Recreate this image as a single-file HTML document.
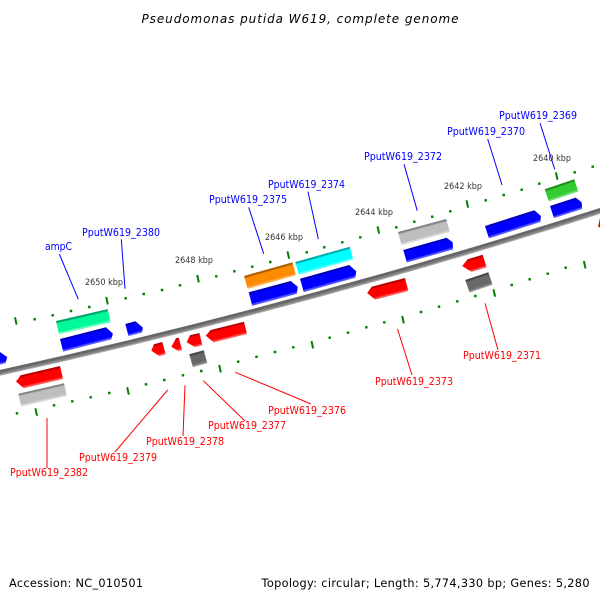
<!DOCTYPE html>
<html>
<head>
<meta charset="utf-8">
<style>
html,body{margin:0;padding:0;background:#fff;}
svg{display:block;}
text{font-family:"DejaVu Sans",sans-serif;}
.b{fill:#0000ff;font-size:10.5px;}
.r{fill:#ff0000;font-size:10.5px;}
.k{fill:#333;font-size:8.5px;}
.f{fill:#000;font-size:11.3px;}
.bl{stroke:#0000ff;stroke-width:1;fill:none;}
.rl{stroke:#ff0000;stroke-width:1;fill:none;}
</style>
</head>
<body>
<svg width="600" height="600" viewBox="0 0 600 600" xmlns="http://www.w3.org/2000/svg">
<defs>
<linearGradient id="gb" x1="0" y1="0" x2="0" y2="1"><stop offset="0" stop-color="#0000b0"/><stop offset=".12" stop-color="#0000c0"/><stop offset=".2" stop-color="#0000ff"/><stop offset=".82" stop-color="#0000ff"/><stop offset=".88" stop-color="#4848ff"/><stop offset="1" stop-color="#6060ff"/></linearGradient>
<linearGradient id="gr" x1="0" y1="0" x2="0" y2="1"><stop offset="0" stop-color="#b00000"/><stop offset=".12" stop-color="#c00000"/><stop offset=".2" stop-color="#ff0000"/><stop offset=".82" stop-color="#ff0000"/><stop offset=".88" stop-color="#ff4848"/><stop offset="1" stop-color="#ff6060"/></linearGradient>
<linearGradient id="gs" x1="0" y1="0" x2="0" y2="1"><stop offset="0" stop-color="#808080"/><stop offset=".12" stop-color="#888"/><stop offset=".2" stop-color="#bebebe"/><stop offset=".82" stop-color="#bebebe"/><stop offset=".88" stop-color="#d0d0d0"/><stop offset="1" stop-color="#dcdcdc"/></linearGradient>
<linearGradient id="gd" x1="0" y1="0" x2="0" y2="1"><stop offset="0" stop-color="#404040"/><stop offset=".12" stop-color="#484848"/><stop offset=".2" stop-color="#696969"/><stop offset=".82" stop-color="#696969"/><stop offset=".88" stop-color="#888"/><stop offset="1" stop-color="#999"/></linearGradient>
<linearGradient id="gm" x1="0" y1="0" x2="0" y2="1"><stop offset="0" stop-color="#00a064"/><stop offset=".12" stop-color="#00a86c"/><stop offset=".2" stop-color="#00fa9a"/><stop offset=".82" stop-color="#00fa9a"/><stop offset=".88" stop-color="#50ffb8"/><stop offset="1" stop-color="#70ffc8"/></linearGradient>
<linearGradient id="gc" x1="0" y1="0" x2="0" y2="1"><stop offset="0" stop-color="#00a8a8"/><stop offset=".12" stop-color="#00b0b0"/><stop offset=".2" stop-color="#00ffff"/><stop offset=".82" stop-color="#00ffff"/><stop offset=".88" stop-color="#50ffff"/><stop offset="1" stop-color="#70ffff"/></linearGradient>
<linearGradient id="go" x1="0" y1="0" x2="0" y2="1"><stop offset="0" stop-color="#a85c00"/><stop offset=".12" stop-color="#b06000"/><stop offset=".2" stop-color="#ff8c00"/><stop offset=".82" stop-color="#ff8c00"/><stop offset=".88" stop-color="#ffa840"/><stop offset="1" stop-color="#ffb860"/></linearGradient>
<linearGradient id="gl" x1="0" y1="0" x2="0" y2="1"><stop offset="0" stop-color="#208820"/><stop offset=".12" stop-color="#249024"/><stop offset=".2" stop-color="#32cd32"/><stop offset=".82" stop-color="#32cd32"/><stop offset=".88" stop-color="#70dc70"/><stop offset="1" stop-color="#88e488"/></linearGradient>
</defs>

<!-- backbone -->
<path d="M-5 373.9 Q300 306.9 605 209.3" fill="none" stroke="#a8a8a8" stroke-width="5.8"/>
<path d="M-5 373.4 Q300 306.4 605 208.8" fill="none" stroke="#808080" stroke-width="4.4"/>
<path d="M-5 372.5 Q300 305.5 605 207.9" fill="none" stroke="#666666" stroke-width="2.4"/>

<!-- ticks -->
<g fill="none" stroke="#008000" stroke-width="2">
<path d="M15 317.3l1.6 7.4M106.2 297l1.6 7.4M197.2 275l1.6 7.4M287.5 251.3l1.6 7.4M377.5 226.3l1.6 7.4M466.5 200.3l1.6 7.4M555.9 172.3l1.6 7.4"/>
<path d="M35.4 408.3l1.6 7.4M127.2 387.3l1.6 7.4M219.2 365l1.6 7.4M311.5 341l1.6 7.4M402.2 316l1.6 7.4M493.5 289.3l1.6 7.4M583.9 261l1.6 7.4"/>
<path stroke-width="2.5" d="M34.7 318.1v2.4M52.7 314.1v2.4M71 309.8v2.4M89.3 305.8v2.4M125.7 297.1v2.4M143.7 292.8v2.4M162 288.8v2.4M180 284.1v2.4M216.3 275.1v2.4M234.3 270.1v2.4M252.3 265.5v2.4M270.3 260.8v2.4M306.7 251.1v2.4M324.3 246.1v2.4M342.3 241.1v2.4M360.3 236.1v2.4M396.3 226.1v2.4M414.3 220.5v2.4M432.3 215.5v2.4M450.3 210.1v2.4M485.7 199.1v2.4M503.7 193.8v2.4M521.7 188.5v2.4M539.3 182.5v2.4M574.7 171.1v2.4M592.7 165.5v2.4"/>
<path stroke-width="2.5" d="M17 412.1v2.4M54 404.1v2.4M72.3 400.1v2.4M90.7 396.1v2.4M109.3 391.8v2.4M146 383.1v2.4M164.3 378.8v2.4M183 374.1v2.4M201.3 369.8v2.4M238.2 360.5v2.4M256.5 355.6v2.4M275 350.8v2.4M293.3 346.1v2.4M329.7 336.5v2.4M348 331.5v2.4M366.3 326.1v2.4M384.3 321.1v2.4M421 310.8v2.4M439 305.5v2.4M457.3 300.1v2.4M475.3 294.8v2.4M511.7 283.8v2.4M529.7 278.1v2.4M547.7 272.5v2.4M565.7 266.5v2.4"/>
</g>

<!-- connectors -->
<path class="bl" d="M540 123L554.7 169.3M487.7 139L502 185M404 164.3L417.3 210.7M308 191.7L318.3 239M248.7 207.3L263.7 253.7M121.3 239.3L125 288.7M59.3 254L78.3 299.3"/>
<path class="rl" d="M485 303.3L498 350M397.5 329L412 375M235.3 372.3L311 404M203.3 380.7L245 421M185 385.3L183 436M167.7 390L115 452M47 418L47 468"/>

<!-- genes top strand -->
<g transform="translate(56 321) rotate(-13)"><polygon fill="url(#gm)" points="0,0 53,0 53,13.6 0,13.6"/></g>
<g transform="translate(60 339) rotate(-14.3)"><polygon fill="url(#gb)" points="0,0 47.5,0 52.6,8 49.5,13 0,13"/></g>
<g transform="translate(125.3 324) rotate(-15)"><polygon fill="url(#gb)" points="0,0 10.5,0 16,8 14,12.5 0,12.5"/></g>
<g transform="translate(-10 354.2) rotate(-14)"><polygon fill="url(#gb)" points="0,0 10,0 16,7 13,12.5 0,12.5"/></g>
<g transform="translate(244 276) rotate(-15.8)"><polygon fill="url(#go)" points="0,0 50.2,0 50.2,13.4 0,13.4"/></g>
<g transform="translate(248.7 292.3) rotate(-15)"><polygon fill="url(#gb)" points="0,0 43.5,0 48.8,7.3 46,14 0,14"/></g>
<g transform="translate(295.3 262) rotate(-15.7)"><polygon fill="url(#gc)" points="0,0 56.5,0 56.5,13.4 0,13.4"/></g>
<g transform="translate(300 278.7) rotate(-15.6)"><polygon fill="url(#gb)" points="0,0 51,0 56.2,8 53.5,14 0,14"/></g>
<g transform="translate(398 232) rotate(-15.1)"><polygon fill="url(#gs)" points="0,0 50,0 50,13.6 0,13.6"/></g>
<g transform="translate(403.3 250) rotate(-15.8)"><polygon fill="url(#gb)" points="0,0 45,0 49.6,6 48,13 0,13"/></g>
<g transform="translate(485 226) rotate(-17.7)"><polygon fill="url(#gb)" points="0,0 51.8,0 56.3,7.5 54,13 0,13"/></g>
<g transform="translate(544.7 189.3) rotate(-18.7)"><polygon fill="url(#gl)" points="0,0 31.2,0 31.2,13 0,13"/></g>
<g transform="translate(550 206) rotate(-18)"><polygon fill="url(#gb)" points="0,0 27,0 31.3,6.3 29.5,12.8 0,12.8"/></g>

<!-- genes bottom strand -->
<g transform="translate(20.7 375.3) rotate(-13.3)"><polygon fill="url(#gr)" points="0,0 40.4,0 40.4,13.3 0,13.3 -6,5"/></g>
<g transform="translate(18.3 393.7) rotate(-12.8)"><polygon fill="url(#gs)" points="0,0 46.9,0 46.9,13 0,13"/></g>
<g transform="translate(154 344.3) rotate(-15.5)"><polygon fill="url(#gr)" points="0,0 8.6,0 8.6,12.8 2,12.8 -4.3,5.4"/></g>
<g transform="translate(176 338.3) rotate(-15)"><polygon fill="url(#gr)" points="0,0 2.8,0 2.8,13 -1,13 -6.7,7"/></g>
<g transform="translate(190 335.3) rotate(-14)"><polygon fill="url(#gr)" points="0,0 9.6,0 9.6,12.7 2,12.7 -4.9,6"/></g>
<g transform="translate(210.7 330) rotate(-14)"><polygon fill="url(#gr)" points="0,0 34.3,0 34.3,12.7 0,12.7 -6.2,4.3"/></g>
<g transform="translate(189.3 354.3) rotate(-15.6)"><polygon fill="url(#gd)" points="0,0 15,0 15,13.3 0,13.3"/></g>
<g transform="translate(371.7 286.7) rotate(-14.6)"><polygon fill="url(#gr)" points="0,0 34.4,0 34.4,13.4 0,13.4 -6,5"/></g>
<g transform="translate(467.7 259.3) rotate(-17)"><polygon fill="url(#gr)" points="0,0 15.7,0 15.7,13.2 0,13.2 -7.2,4.8"/></g>
<g transform="translate(465.3 280) rotate(-18.5)"><polygon fill="url(#gd)" points="0,0 24.3,0 24.3,13.2 0,13.2"/></g>
<g transform="translate(600 218) rotate(-18)"><polygon fill="url(#gr)" points="0,0 20,0 20,13 0,13 -4.5,7.5"/></g>

<!-- kbp labels -->
<text class="k" x="533" y="161" textLength="38" lengthAdjust="spacingAndGlyphs">2640 kbp</text>
<text class="k" x="444" y="189" textLength="38" lengthAdjust="spacingAndGlyphs">2642 kbp</text>
<text class="k" x="355" y="215" textLength="38" lengthAdjust="spacingAndGlyphs">2644 kbp</text>
<text class="k" x="265" y="240" textLength="38" lengthAdjust="spacingAndGlyphs">2646 kbp</text>
<text class="k" x="175" y="263" textLength="38" lengthAdjust="spacingAndGlyphs">2648 kbp</text>
<text class="k" x="85" y="285" textLength="38" lengthAdjust="spacingAndGlyphs">2650 kbp</text>

<!-- gene labels -->
<text class="b" x="499" y="119" textLength="78" lengthAdjust="spacingAndGlyphs">PputW619_2369</text>
<text class="b" x="447" y="135" textLength="78" lengthAdjust="spacingAndGlyphs">PputW619_2370</text>
<text class="b" x="364" y="160" textLength="78" lengthAdjust="spacingAndGlyphs">PputW619_2372</text>
<text class="b" x="268" y="188" textLength="77" lengthAdjust="spacingAndGlyphs">PputW619_2374</text>
<text class="b" x="209" y="203" textLength="78" lengthAdjust="spacingAndGlyphs">PputW619_2375</text>
<text class="b" x="82" y="236" textLength="78" lengthAdjust="spacingAndGlyphs">PputW619_2380</text>
<text class="b" x="45" y="250" textLength="27" lengthAdjust="spacingAndGlyphs">ampC</text>
<text class="r" x="463" y="359" textLength="78" lengthAdjust="spacingAndGlyphs">PputW619_2371</text>
<text class="r" x="375" y="385" textLength="78" lengthAdjust="spacingAndGlyphs">PputW619_2373</text>
<text class="r" x="268" y="414" textLength="78" lengthAdjust="spacingAndGlyphs">PputW619_2376</text>
<text class="r" x="208" y="429" textLength="78" lengthAdjust="spacingAndGlyphs">PputW619_2377</text>
<text class="r" x="146" y="445" textLength="78" lengthAdjust="spacingAndGlyphs">PputW619_2378</text>
<text class="r" x="79" y="461" textLength="78" lengthAdjust="spacingAndGlyphs">PputW619_2379</text>
<text class="r" x="10" y="476" textLength="78" lengthAdjust="spacingAndGlyphs">PputW619_2382</text>

<!-- title and footer -->
<text x="141.5" y="23" font-size="12" font-style="italic" fill="#000" textLength="317">Pseudomonas putida W619, complete genome</text>
<text class="f" x="9" y="587" textLength="134">Accession: NC_010501</text>
<text class="f" x="261.5" y="587" textLength="328">Topology: circular; Length: 5,774,330 bp; Genes: 5,280</text>
</svg>
</body>
</html>
